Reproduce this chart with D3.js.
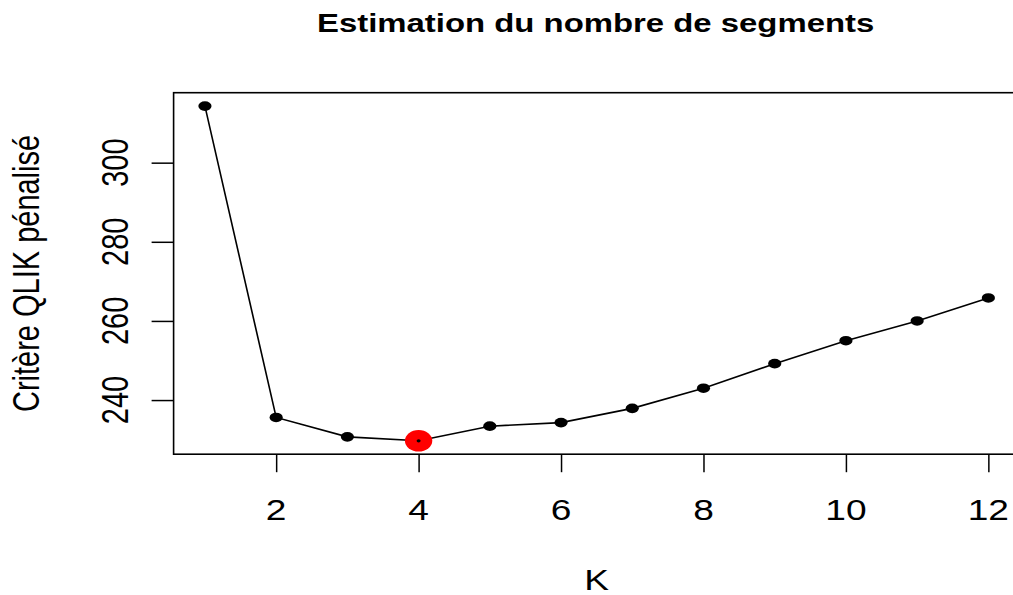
<!DOCTYPE html>
<html>
<head>
<meta charset="utf-8">
<script src="https://cdn.jsdelivr.net/npm/d3@7"></script>
<style>
  html, body { margin: 0; padding: 0; background: #fff; }
  svg { display: block; font-family: "Liberation Sans", Arial, Helvetica, sans-serif; }
</style>
</head>
<body>
<svg id="svg1" width="1013" height="595"></svg>
<script>
"use strict";

// data
const kValues = [1, 2, 3, 4, 5, 6, 7, 8, 9, 10, 11, 12];
const critValues = [314.3, 235.6, 230.7, 229.7, 233.4, 234.3, 237.9, 243.0, 249.2, 255.0, 260.0, 265.8];
const xTicks = [2, 4, 6, 8, 10, 12];
const yTicks = [240, 260, 280, 300];
const titleText = "Estimation du nombre de segments";
const xLabel = "K";
const yLabel = "Critère QLIK pénalisé";

let svg = d3.select("#svg1");

// plot region (R base graphics, stretched horizontally)
let marginLeft = 173.6;
let marginTop = 92.7;
let plotWidth = 846.1;
let plotHeight = 361.5;
let sx = 1.28; // horizontal stretch of the glyphs

// R style axis range: data range padded by 4% each side
function rRange(vals) {
  let ext = d3.extent(vals);
  let pad = (ext[1] - ext[0]) * 0.04;
  return [ext[0] - pad, ext[1] + pad];
}

let x = d3.scaleLinear().domain(rRange(kValues)).range([marginLeft, marginLeft + plotWidth]);
let y = d3.scaleLinear().domain(rRange(critValues)).range([marginTop + plotHeight, marginTop]);

let data = kValues.map((k, i) => ({k: k, v: critValues[i]}));
let best = data.reduce((a, b) => (b.v < a.v ? b : a));

// box
svg.append("rect")
  .attr("x", marginLeft)
  .attr("y", marginTop)
  .attr("width", plotWidth)
  .attr("height", plotHeight)
  .attr("fill", "none")
  .attr("stroke", "#000")
  .attr("stroke-width", 1.6);

// x axis
let gx = svg.append("g")
  .attr("transform", `translate(0,${marginTop + plotHeight})`)
  .call(d3.axisBottom(x).tickValues(xTicks).tickSize(18).tickFormat(""));
gx.select(".domain").remove();
gx.selectAll(".tick line").attr("stroke", "#000").attr("stroke-width", 1.5);

svg.append("g").selectAll("text")
  .data(xTicks)
  .enter().append("text")
    .attr("transform", d => `translate(${x(d)},520) scale(${sx},1)`)
    .attr("text-anchor", "middle")
    .style("font-size", "29px")
    .text(d => d);

// y axis
let gy = svg.append("g")
  .attr("transform", `translate(${marginLeft},0)`)
  .call(d3.axisLeft(y).tickValues(yTicks).tickSize(22).tickFormat(""));
gy.select(".domain").remove();
gy.selectAll(".tick line").attr("stroke", "#000").attr("stroke-width", 1.5);

svg.append("g").selectAll("text")
  .data(yTicks)
  .enter().append("text")
    .attr("transform", d => `translate(128,${y(d)}) scale(${sx},1) rotate(-90)`)
    .attr("text-anchor", "middle")
    .style("font-size", "29px")
    .text(d => d);

// line
let line = d3.line().x(d => x(d.k)).y(d => y(d.v));
svg.append("path")
  .datum(data)
  .attr("d", line)
  .attr("fill", "none")
  .attr("stroke", "#000")
  .attr("stroke-width", 1.6);

// highlighted minimum
svg.append("ellipse")
  .attr("cx", x(best.k))
  .attr("cy", y(best.v))
  .attr("rx", 13.7)
  .attr("ry", 10.7)
  .attr("fill", "#ff0000");

// points
svg.append("g").selectAll("ellipse")
  .data(data)
  .enter().append("ellipse")
    .attr("cx", d => x(d.k))
    .attr("cy", d => y(d.v))
    .attr("rx", d => d === best ? 2 : 6.6)
    .attr("ry", d => d === best ? 1.6 : 4.8)
    .attr("fill", "#000");

// titles
svg.append("text")
  .attr("transform", `translate(${marginLeft + plotWidth / 2 - 1},32) scale(1.29,1)`)
  .attr("text-anchor", "middle")
  .style("font-size", "25.5px")
  .style("font-weight", "bold")
  .text(titleText);

svg.append("text")
  .attr("transform", `translate(${marginLeft + plotWidth / 2},590) scale(${sx},1)`)
  .attr("text-anchor", "middle")
  .style("font-size", "29px")
  .text(xLabel);

svg.append("text")
  .attr("transform", `translate(39,${marginTop + plotHeight / 2}) scale(1.25,1) rotate(-90)`)
  .attr("text-anchor", "middle")
  .style("font-size", "29px")
  .text(yLabel);
</script>
</body>
</html>
